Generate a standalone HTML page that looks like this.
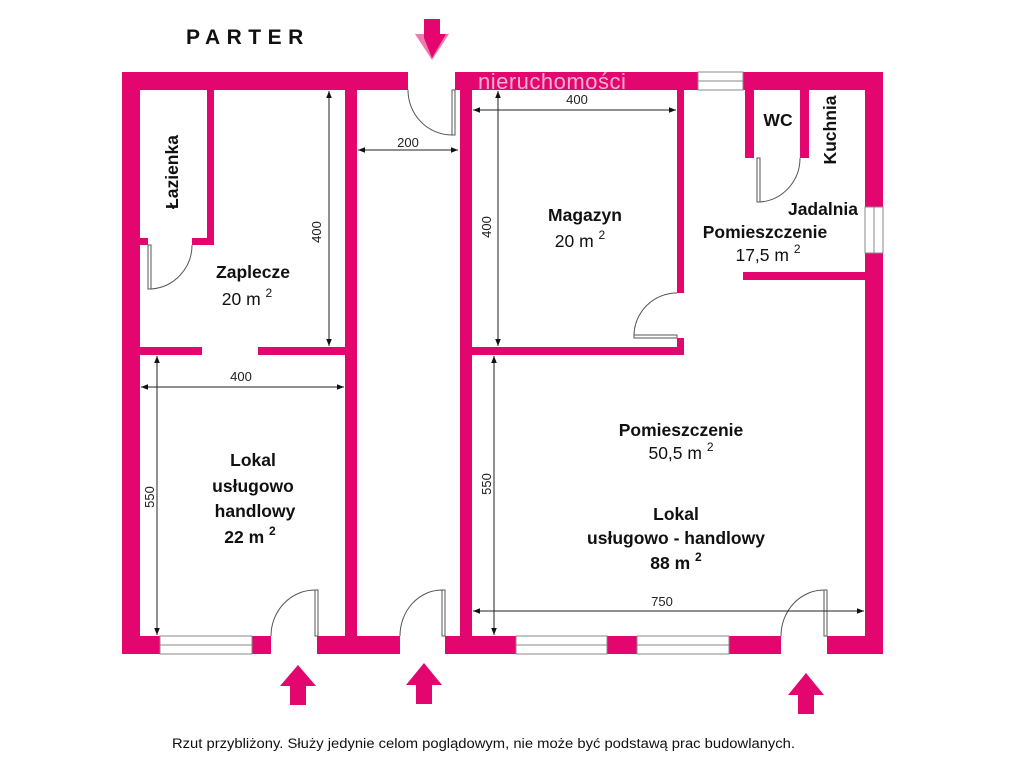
<!DOCTYPE html>
<html><head><meta charset="utf-8"><style>
body{margin:0;background:#fff;width:1024px;height:768px;overflow:hidden}
svg{display:block}
text{font-family:"Liberation Sans",sans-serif;fill:#111}
.b{font-weight:bold;font-size:17.5px}
.n{font-size:17.5px}
.d{font-size:13px;fill:#222}
</style></head><body>
<svg width="1024" height="768" viewBox="0 0 1024 768" xmlns="http://www.w3.org/2000/svg">
<defs>
<marker id="a" viewBox="0 0 10 10" refX="10" refY="5" markerWidth="7" markerHeight="7" orient="auto-start-reverse"><path d="M0,1 L10,5 L0,9 z" fill="#111"/></marker>
</defs>
<g fill="#e4066f">
<rect x="122" y="72" width="286" height="18"/>
<rect x="455" y="72" width="243" height="18"/>
<rect x="743" y="72" width="140" height="18"/>
<rect x="122" y="72" width="18" height="582"/>
<rect x="865" y="72" width="18" height="135"/>
<rect x="865" y="253" width="18" height="401"/>
<rect x="122" y="636" width="38" height="18"/>
<rect x="252" y="636" width="19" height="18"/>
<rect x="317" y="636" width="83" height="18"/>
<rect x="445" y="636" width="71" height="18"/>
<rect x="607" y="636" width="30" height="18"/>
<rect x="729" y="636" width="52" height="18"/>
<rect x="827" y="636" width="56" height="18"/>
<rect x="207" y="90" width="7" height="155"/>
<rect x="140" y="238" width="8" height="7"/>
<rect x="192" y="238" width="22" height="7"/>
<rect x="345" y="90" width="12" height="546"/>
<rect x="140" y="347" width="62" height="8"/>
<rect x="258" y="347" width="87" height="8"/>
<rect x="460" y="90" width="12" height="546"/>
<rect x="677" y="90" width="7" height="203"/>
<rect x="677" y="338" width="7" height="17"/>
<rect x="472" y="347" width="212" height="8"/>
<rect x="745" y="90" width="9" height="68"/>
<rect x="800" y="90" width="9" height="68"/>
<rect x="743" y="272" width="122" height="8"/>
</g>
<text x="478" y="89" style="font-size:22px;fill:#f3b3cf;letter-spacing:0.5px">nieruchomości</text>
<g fill="#fff" stroke="#888" stroke-width="1">
<rect x="698" y="72" width="45" height="18"/><line x1="698" y1="81" x2="743" y2="81"/>
<rect x="865" y="207" width="18" height="46"/><line x1="874" y1="207" x2="874" y2="253"/>
<rect x="160" y="636" width="92" height="18"/><line x1="160" y1="645" x2="252" y2="645"/>
<rect x="516" y="636" width="91" height="18"/><line x1="516" y1="645" x2="607" y2="645"/>
<rect x="637" y="636" width="92" height="18"/><line x1="637" y1="645" x2="729" y2="645"/>
</g>
<g fill="none" stroke="#555" stroke-width="1">
<rect x="452" y="90" width="3" height="45" fill="#fff"/><path d="M408,90 A44,45 0 0 0 452,135"/>
<rect x="148" y="245" width="3" height="44" fill="#fff"/><path d="M192,245 A44,44 0 0 1 151,289"/>
<rect x="757" y="158" width="3" height="44" fill="#fff"/><path d="M800,158 A43,44 0 0 1 760,202"/>
<rect x="634" y="335" width="43" height="3" fill="#fff"/><path d="M677,293 A43,43 0 0 0 634,335"/>
<rect x="315" y="590" width="3" height="46" fill="#fff"/><path d="M271,636 A44,46 0 0 1 315,590"/>
<rect x="442" y="590" width="3" height="46" fill="#fff"/><path d="M400,636 A42,46 0 0 1 442,590"/>
<rect x="824" y="590" width="3" height="46" fill="#fff"/><path d="M781,636 A43,46 0 0 1 824,590"/>
</g>
<g stroke="#222" stroke-width="1" marker-start="url(#a)" marker-end="url(#a)">
<line x1="329" y1="91" x2="329" y2="346"/>
<line x1="358" y1="150" x2="458" y2="150"/>
<line x1="473" y1="110" x2="676" y2="110"/>
<line x1="498" y1="91" x2="498" y2="346"/>
<line x1="141" y1="387" x2="344" y2="387"/>
<line x1="157" y1="356" x2="157" y2="635"/>
<line x1="494" y1="356" x2="494" y2="635"/>
<line x1="473" y1="611" x2="864" y2="611"/>
</g>
<text class="d" x="408" y="147" text-anchor="middle">200</text>
<text class="d" x="577" y="104" text-anchor="middle">400</text>
<text class="d" x="241" y="381" text-anchor="middle">400</text>
<text class="d" x="662" y="606" text-anchor="middle">750</text>
<text class="d" transform="translate(321,232) rotate(-90)" text-anchor="middle">400</text>
<text class="d" transform="translate(491,227) rotate(-90)" text-anchor="middle">400</text>
<text class="d" transform="translate(154,497) rotate(-90)" text-anchor="middle">550</text>
<text class="d" transform="translate(491,484) rotate(-90)" text-anchor="middle">550</text>
<text class="b" transform="translate(178,172) rotate(-90)" text-anchor="middle">Łazienka</text>
<text class="b" x="253" y="278" text-anchor="middle">Zaplecze</text>
<text class="n" x="247" y="305" text-anchor="middle">20 m <tspan dy="-8" font-size="12">2</tspan></text>
<text class="b" x="585" y="221" text-anchor="middle">Magazyn</text>
<text class="n" x="580" y="247" text-anchor="middle">20 m <tspan dy="-8" font-size="12">2</tspan></text>
<text class="b" x="778" y="126" text-anchor="middle">WC</text>
<text class="b" transform="translate(836,130) rotate(-90)" text-anchor="middle">Kuchnia</text>
<text class="b" x="823" y="215" text-anchor="middle">Jadalnia</text>
<text class="b" x="765" y="238" text-anchor="middle">Pomieszczenie</text>
<text class="n" x="768" y="261" text-anchor="middle">17,5 m <tspan dy="-8" font-size="12">2</tspan></text>
<text class="b" x="681" y="436" text-anchor="middle">Pomieszczenie</text>
<text class="n" x="681" y="459" text-anchor="middle">50,5 m <tspan dy="-8" font-size="12">2</tspan></text>
<text class="b" x="676" y="520" text-anchor="middle">Lokal</text>
<text class="b" x="676" y="544" text-anchor="middle">usługowo - handlowy</text>
<text class="b" x="676" y="569" text-anchor="middle">88 m <tspan dy="-8" font-size="12">2</tspan></text>
<text class="b" x="253" y="466" text-anchor="middle">Lokal</text>
<text class="b" x="253" y="492" text-anchor="middle">usługowo</text>
<text class="b" x="255" y="517" text-anchor="middle">handlowy</text>
<text class="b" x="250" y="543" text-anchor="middle">22 m <tspan dy="-8" font-size="12">2</tspan></text>
<g fill="#e4066f">
<path d="M298,665 L316,686 L306,686 L306,705 L290,705 L290,686 L280,686 z"/>
<path d="M424,663 L442,685 L432,685 L432,704 L416,704 L416,685 L406,685 z"/>
<path d="M806,673 L824,695 L814,695 L814,714 L798,714 L798,695 L788,695 z"/>
<path d="M415,34 L449,34 L432,60 z" fill="#ee7aae"/>
<path d="M424,19 L440,19 L440,34 L446,34 L432,58 L424,38 z"/>
</g>
<text x="186" y="44" style="font-weight:bold;font-size:21px;letter-spacing:6.5px">PARTER</text>
<text x="172" y="748" style="font-size:13.5px" textLength="623" lengthAdjust="spacingAndGlyphs">Rzut przybliżony. Służy jedynie celom poglądowym, nie może być podstawą prac budowlanych.</text>
</svg>
</body></html>
